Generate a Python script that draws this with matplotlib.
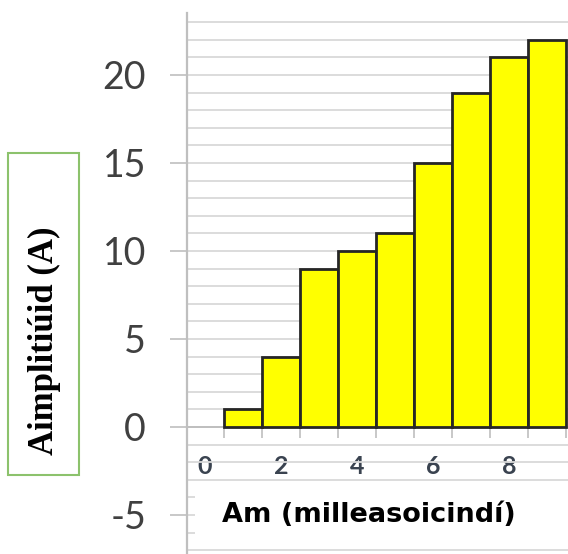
import numpy as np
import matplotlib
matplotlib.use("Agg")
import matplotlib.pyplot as plt
from matplotlib.patches import Rectangle

plt.rcParams["axes.unicode_minus"] = False

# ----------------------------
# Data
# ----------------------------
positions = [1, 2, 3, 4, 5, 6, 7, 8, 9]
amplitudes = [1, 4, 9, 10, 11, 15, 19, 21, 22]
x_tick_values = [0, 2, 4, 6, 8]
y_tick_values = [-5, 0, 5, 10, 15, 20]

x_title = "Am (milleasoicindí)"
y_title = "Aimplitiúid (A)"

GRID = "#D9D9D9"
AXIS = "#BFBFBF"
TEXT = "#404040"

# ----------------------------
# Figure / axes
# ----------------------------
fig = plt.figure(figsize=(5.68, 5.54), dpi=100)
ax = fig.add_axes([187 / 568, 0.0, 381 / 568, 541 / 554])

ax.set_xlim(-0.474, 9.553)
ax.set_ylim(-7.216, 23.52)
ax.set_axisbelow(True)

# yellow step bars
ax.bar(positions, amplitudes, width=1.0, color="#FFFF00",
       edgecolor="#262626", linewidth=2.0, zorder=3)

# spines
for side in ["top", "right"]:
    ax.spines[side].set_visible(False)
ax.spines["left"].set_color(AXIS)
ax.spines["left"].set_linewidth(1.6)
ax.spines["bottom"].set_position(("data", 0))
ax.spines["bottom"].set_color(AXIS)
ax.spines["bottom"].set_linewidth(1.4)

# y axis: majors every 5, gridlines every 1
ax.set_yticks(y_tick_values)
ax.set_yticks(np.arange(-7, 24, 1), minor=True)
ax.tick_params(axis="y", which="major", length=12.5, width=1.2, color=AXIS,
               pad=17, labelsize=27, labelcolor=TEXT)
ax.tick_params(axis="y", which="minor", length=0)
for lab in ax.get_yticklabels():
    lab.set_fontfamily("Lato")
ax.yaxis.grid(True, which="both", color=GRID, linewidth=1.3)

# x axis: labels below the zero line, category marks at bar edges
ax.set_xticks(x_tick_values)
ax.set_xticks(np.arange(0.5, 10.5, 1), minor=True)
ax.tick_params(axis="x", which="major", length=0, pad=20,
               labelsize=18, labelcolor="#3A4350")
ax.tick_params(axis="x", which="minor", length=8, width=1.2, color=AXIS,
               direction="out")
for lab in ax.get_xticklabels():
    lab.set_fontfamily("Lato")
    lab.set_fontweight("bold")

# white panel holding the x title
ax.add_patch(Rectangle((-0.26, -6.85), 10.0, 3.62, facecolor="white",
                       edgecolor="none", zorder=2))
ax.text(4.3, -5.0, x_title, ha="center", va="center", fontsize=19.5,
        fontweight="bold", family="DejaVu Sans", color="black", zorder=4)

# y title in a green frame on the left
fig.add_artist(Rectangle((8 / 568, 79 / 554), 71 / 568, 322 / 554,
                         transform=fig.transFigure, facecolor="white",
                         edgecolor="#8CC26C", linewidth=1.5))
fig.text(44 / 568, 213 / 554, y_title, rotation=90, ha="center", va="center",
         fontsize=25, fontweight="bold", family="Liberation Serif",
         color="black")

fig.savefig("out.png", dpi=100)
